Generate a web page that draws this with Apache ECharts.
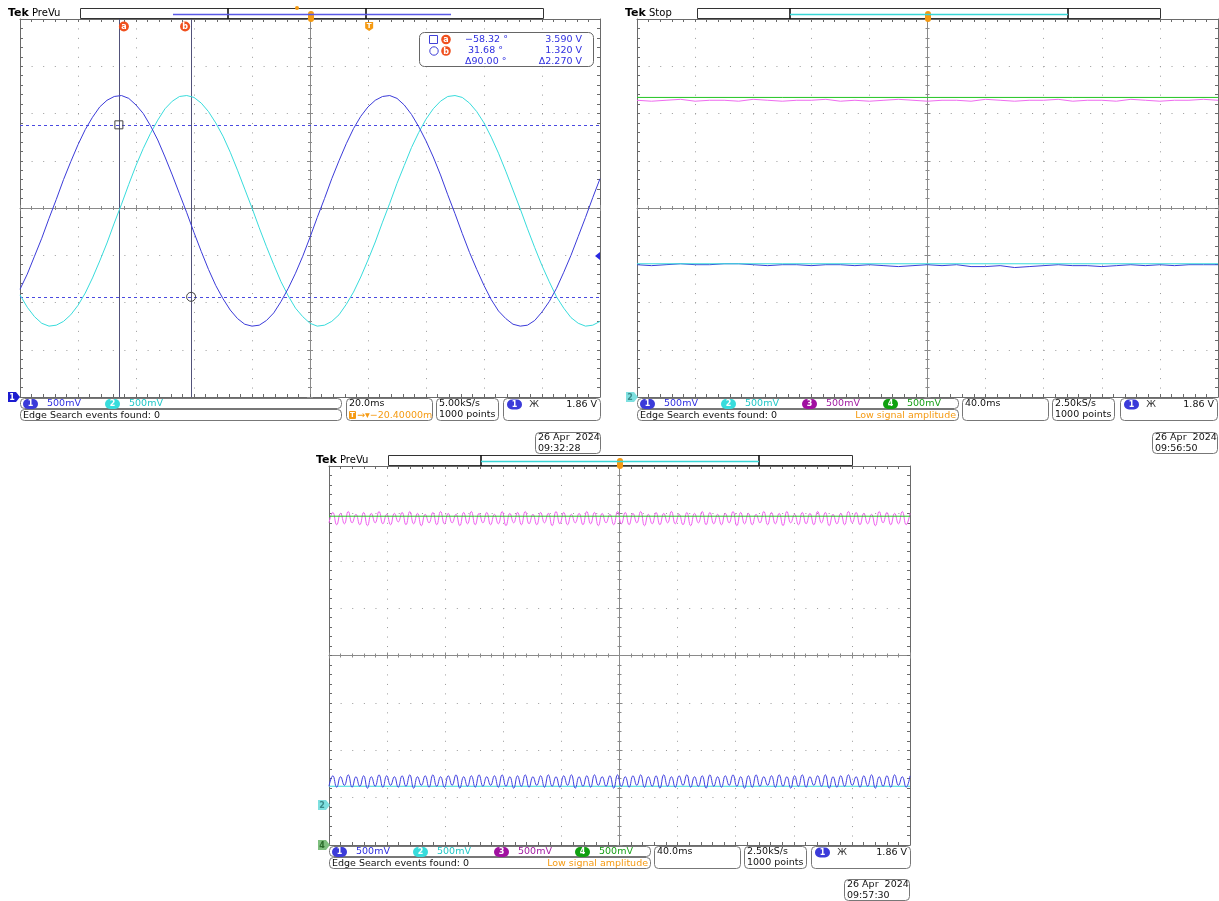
<!DOCTYPE html>
<html><head><meta charset="utf-8">
<script src="https://cdn.jsdelivr.net/npm/echarts@6/dist/echarts.min.js"></script>
<style>html,body{margin:0;padding:0;background:#fff}#c{width:1219px;height:901px}</style>
</head><body><div id="c"></div><script>
// ---------------- DATA ----------------
// Panel 1: 20 ms/div, 500 mV/div, samples every 2.5 ms from -100 to 100 ms (volts relative to screen centre)
const p1Window = [-100, 100];
const p1Ch1 = [-0.86,-0.70,-0.51,-0.32,-0.11,0.09,0.30,0.49,0.67,0.83,0.96,1.07,1.14,1.18,1.19,1.16,1.09,1.00,0.87,0.72,
0.54,0.35,0.15,-0.05,-0.26,-0.46,-0.65,-0.82,-0.96,-1.08,-1.17,-1.23,-1.25,-1.24,-1.19,-1.11,-0.99,-0.85,-0.69,-0.51,
-0.31,-0.10,0.10,0.31,0.50,0.68,0.84,0.97,1.07,1.14,1.18,1.19,1.16,1.09,0.99,0.86,0.71,0.54,0.35,0.14,
-0.06,-0.27,-0.47,-0.65,-0.82,-0.97,-1.09,-1.17,-1.23,-1.25,-1.24,-1.19,-1.10,-0.99,-0.85,-0.68,-0.50,-0.30,-0.10,0.11,0.31];
const p1Ch2 = [-0.92,-1.05,-1.15,-1.22,-1.25,-1.24,-1.20,-1.13,-1.03,-0.90,-0.74,-0.56,-0.37,-0.16,0.04,0.25,0.45,0.63,0.79,0.93,
1.05,1.13,1.18,1.19,1.17,1.11,1.02,0.90,0.76,0.59,0.40,0.20,0.00,-0.21,-0.41,-0.60,-0.78,-0.93,-1.06,-1.15,
-1.22,-1.25,-1.24,-1.20,-1.13,-1.02,-0.89,-0.73,-0.55,-0.36,-0.15,0.05,0.26,0.45,0.64,0.80,0.94,1.05,1.13,1.18,
1.19,1.17,1.11,1.02,0.90,0.75,0.58,0.39,0.19,-0.01,-0.22,-0.42,-0.61,-0.78,-0.94,-1.06,-1.16,-1.22,-1.25,-1.24,-1.20];
const p1CursorTimes = [-65.9, -41.0];
const p1CursorVolts = [0.88, -0.94];
const p1TriggerTime = [20.4];
// Panel 2: 40 ms/div
const p23Window = [-200, 200];
const p2Ch1 = [-0.60,-0.61,-0.60,-0.59,-0.60,-0.60,-0.59,-0.59,-0.60,-0.61,-0.60,-0.60,-0.61,-0.60,-0.60,-0.61,-0.60,-0.61,-0.62,-0.61,-0.60,-0.61,-0.60,-0.62,-0.62,-0.61,-0.63,-0.62,-0.61,-0.60,-0.61,-0.61,-0.62,-0.61,-0.60,-0.61,-0.60,-0.61,-0.60,-0.60,-0.60];
const p2Ch2 = [-0.59,-0.59,-0.59,-0.59,-0.59];
const p2Ch3 = [1.14,1.13,1.14,1.15,1.13,1.14,1.14,1.13,1.15,1.14,1.13,1.14,1.14,1.15,1.13,1.14,1.13,1.14,1.15,1.14,1.13,1.14,1.14,1.13,1.15,1.14,1.13,1.14,1.14,1.15,1.13,1.14,1.14,1.13,1.15,1.14,1.13,1.14,1.14,1.15,1.14];
const p2Ch4 = [1.17,1.17,1.17,1.17,1.17];
// Panel 3: 40 ms/div
const p3Ch1 = [
-1.38,-1.27,-1.39,-1.28,-1.37,-1.26,-1.39,-1.28,-1.38,-1.27,-1.40,-1.28,-1.38,-1.26,-1.39,-1.27,-1.37,-1.28,-1.39,-1.27,
-1.38,-1.26,-1.40,-1.28,-1.37,-1.27,-1.39,-1.26,-1.38,-1.28,-1.39,-1.27,-1.37,-1.26,-1.40,-1.28,-1.38,-1.27,-1.39,-1.26,
-1.38,-1.28,-1.37,-1.27,-1.39,-1.26,-1.38,-1.28,-1.40,-1.27,-1.38,-1.26,-1.39,-1.28,-1.37,-1.27,-1.39,-1.26,-1.38,-1.28,
-1.39,-1.27,-1.37,-1.26,-1.40,-1.28,-1.38,-1.27,-1.39,-1.26,-1.37,-1.28,-1.38,-1.27,-1.40,-1.26,-1.38,-1.28,-1.39,-1.27,
-1.37,-1.26,-1.39,-1.28,-1.38,-1.27,-1.40,-1.26,-1.38,-1.28,-1.39,-1.27,-1.37,-1.26,-1.39,-1.28,-1.38,-1.27,-1.40,-1.26,
-1.38,-1.28,-1.39,-1.27,-1.37,-1.26,-1.38,-1.28,-1.40,-1.27,-1.39,-1.26,-1.38,-1.28,-1.37,-1.27,-1.39,-1.26,-1.38,-1.28,
-1.40,-1.27,-1.38,-1.26,-1.39,-1.28,-1.37,-1.27,-1.38,-1.26,-1.40,-1.28,-1.39,-1.27,-1.38,-1.26,-1.37,-1.28,-1.39,-1.27,
-1.38,-1.26,-1.40,-1.28,-1.38,-1.27,-1.39,-1.26,-1.37,-1.28,-1.39,-1.27];
const p3Ch2 = [-1.38,-1.38,-1.38,-1.38,-1.38];
const p3Ch3 = [
1.40,1.51,1.38,1.50,1.39,1.52,1.40,1.49,1.38,1.51,1.37,1.50,1.40,1.52,1.39,1.49,1.38,1.50,1.41,1.51,
1.38,1.52,1.39,1.50,1.37,1.49,1.40,1.51,1.38,1.52,1.39,1.50,1.40,1.49,1.37,1.51,1.39,1.52,1.38,1.50,
1.40,1.51,1.38,1.49,1.39,1.52,1.37,1.50,1.40,1.51,1.38,1.52,1.39,1.49,1.38,1.51,1.40,1.50,1.37,1.52,
1.39,1.51,1.38,1.49,1.40,1.50,1.38,1.52,1.39,1.51,1.37,1.50,1.40,1.49,1.38,1.52,1.39,1.51,1.38,1.50,
1.40,1.52,1.37,1.49,1.39,1.51,1.38,1.50,1.40,1.52,1.39,1.49,1.38,1.51,1.37,1.50,1.40,1.52,1.38,1.51,
1.39,1.49,1.38,1.50,1.40,1.52,1.37,1.51,1.39,1.50,1.38,1.49,1.40,1.52,1.38,1.51,1.39,1.50,1.37,1.52,
1.40,1.49,1.38,1.51,1.39,1.50,1.38,1.52,1.40,1.51,1.37,1.49,1.39,1.50,1.38,1.52,1.40,1.51,1.38,1.50,
1.39,1.49,1.37,1.52,1.40,1.51,1.38,1.50,1.39,1.52,1.38,1.50];
const p3Ch4 = [1.47,1.47,1.47,1.47,1.47];
// ---------------- STYLE ----------------
const COL = {ch1:'#3b3bd9', ch2:'#38dcdc', ch3:'#e040e0', ch4:'#22c422', border:'#6a6a6a', center:'#8a8a8a', dot:'#9a9a9a',
  t1:'#2f2fe0', t2:'#21c7c7', t3:'#a21ca2', t4:'#18a018', orange:'#f59a12', cur:'#f0501e'};
const FONT = '"DejaVu Sans", "Liberation Sans", sans-serif';
const grids = [
  {left:20, top:19, width:580, height:378},
  {left:637, top:19, width:581, height:378},
  {left:329, top:466, width:581, height:379}
];
function spread(vals, win){ const n = vals.length; return vals.map((v,i)=>[win[0]+(win[1]-win[0])*i/(n-1), v]); }

const xAxes=[], yAxes=[];
function addAxes(g, xr, xi){
  const gr = grids[g];
  const b = xAxes.length;
  const common = {type:'value', gridIndex:g, axisLabel:{show:false}, splitLine:{show:false}, axisPointer:{show:false}, silent:true};
  const vMinor = gr.height/40, hMinor = gr.width/50;
  const tick = (inside,len,col)=>({show:true, inside:inside, length:len, lineStyle:{color:col,width:1}});
  xAxes.push(Object.assign({}, common, {min:xr[0], max:xr[1], interval:xi, position:'bottom',
    axisLine:{show:true,onZero:true,onZeroAxisIndex:b,lineStyle:{color:COL.center,width:1}},
    axisTick:tick(true,3,COL.center), minorTick:{show:true,splitNumber:5,length:2,lineStyle:{color:COL.center}},
    splitLine:{show:true,lineStyle:{color:COL.dot,width:1,type:[1, vMinor-1]}}}));
  xAxes.push(Object.assign({}, common, {min:xr[0], max:xr[1], interval:xi, position:'bottom',
    axisLine:{show:false,onZero:true,onZeroAxisIndex:b+1},
    axisTick:tick(false,3,COL.center), minorTick:{show:true,splitNumber:5,length:2,lineStyle:{color:COL.center}}}));
  xAxes.push(Object.assign({}, common, {min:xr[0], max:xr[1], interval:xi, position:'top',
    axisLine:{show:true,onZero:false,lineStyle:{color:COL.border,width:1}},
    axisTick:tick(true,3,COL.border), minorTick:{show:true,splitNumber:5,length:3,lineStyle:{color:COL.border}}}));
  xAxes.push(Object.assign({}, common, {min:xr[0], max:xr[1], interval:xi, position:'bottom',
    axisLine:{show:true,onZero:false,lineStyle:{color:COL.border,width:1}},
    axisTick:tick(true,3,COL.border), minorTick:{show:true,splitNumber:5,length:3,lineStyle:{color:COL.border}}}));
  yAxes.push(Object.assign({}, common, {min:-2, max:2, interval:0.5, position:'left',
    axisLine:{show:true,onZero:true,onZeroAxisIndex:b,lineStyle:{color:COL.center,width:1}},
    axisTick:tick(true,3,COL.center), minorTick:{show:true,splitNumber:5,length:2,lineStyle:{color:COL.center}},
    splitLine:{show:true,lineStyle:{color:COL.dot,width:1,type:[1, hMinor-1]}}}));
  yAxes.push(Object.assign({}, common, {min:-2, max:2, interval:0.5, position:'left',
    axisLine:{show:false,onZero:true,onZeroAxisIndex:b+1},
    axisTick:tick(false,3,COL.center), minorTick:{show:true,splitNumber:5,length:2,lineStyle:{color:COL.center}}}));
  yAxes.push(Object.assign({}, common, {min:-2, max:2, interval:0.5, position:'left',
    axisLine:{show:true,onZero:false,lineStyle:{color:COL.border,width:1}},
    axisTick:tick(true,3,COL.border), minorTick:{show:true,splitNumber:5,length:3,lineStyle:{color:COL.border}}}));
  yAxes.push(Object.assign({}, common, {min:-2, max:2, interval:0.5, position:'right',
    axisLine:{show:true,onZero:false,lineStyle:{color:COL.border,width:1}},
    axisTick:tick(true,3,COL.border), minorTick:{show:true,splitNumber:5,length:3,lineStyle:{color:COL.border}}}));
  return b;
}
const a0 = addAxes(0, p1Window, 20);
const a1 = addAxes(1, p23Window, 40);
const a2 = addAxes(2, p23Window, 40);

function trace(ai, vals, win, color, extra){
  return Object.assign({type:'line', xAxisIndex:ai, yAxisIndex:ai, data:spread(vals,win), showSymbol:false, symbol:'none',
    lineStyle:{color:color,width:1}, itemStyle:{color:color}, animation:false, silent:true, z:5}, extra||{});
}
const series = [
  trace(a0, p1Ch2, p1Window, COL.ch2),
  trace(a0, p1Ch1, p1Window, COL.ch1, {
    markLine:{silent:true, symbol:'none', animation:false, label:{show:false},
      data:[
        {xAxis:p1CursorTimes[0], lineStyle:{color:'#52527a',type:'solid',width:1}},
        {xAxis:p1CursorTimes[1], lineStyle:{color:'#52527a',type:'solid',width:1}},
        {yAxis:p1CursorVolts[0], lineStyle:{color:'#4a4ae0',type:[3,3],width:1}},
        {yAxis:p1CursorVolts[1], lineStyle:{color:'#4a4ae0',type:[3,3],width:1}}
      ]},
    markPoint:{silent:true, animation:false, data:[
      {coord:[p1CursorTimes[0],1.92], symbol:'circle', symbolSize:10, symbolOffset:[5,0], itemStyle:{color:COL.cur}, label:{show:true,formatter:'a',color:'#fff',fontSize:8,fontWeight:'bold',fontFamily:FONT}},
      {coord:[p1CursorTimes[1],1.92], symbol:'circle', symbolSize:10, symbolOffset:[-6,0], itemStyle:{color:COL.cur}, label:{show:true,formatter:'b',color:'#fff',fontSize:8,fontWeight:'bold',fontFamily:FONT}},
      {coord:[p1TriggerTime[0],1.92], symbol:'path://M0,0 L10,0 L10,7 L5,10 L0,7 Z', symbolSize:[8,9], itemStyle:{color:COL.orange}, label:{show:true,formatter:'T',color:'#fff',fontSize:7,fontWeight:'bold',fontFamily:FONT}},
      {coord:[p1CursorTimes[0],p1CursorVolts[0]], symbol:'rect', symbolSize:8, itemStyle:{color:'rgba(0,0,0,0)',borderColor:'#444',borderWidth:1}, label:{show:false}},
      {coord:[p1CursorTimes[1],p1CursorVolts[1]], symbol:'circle', symbolSize:9, itemStyle:{color:'rgba(0,0,0,0)',borderColor:'#444',borderWidth:1}, label:{show:false}}
    ]}
  }),
  trace(a1, p2Ch3, p23Window, '#ef6cef'),
  trace(a1, p2Ch4, p23Window, COL.ch4),
  trace(a1, p2Ch1, p23Window, COL.ch1),
  trace(a1, p2Ch2, p23Window, COL.ch2),
  trace(a2, p3Ch3, p23Window, '#f060f0', {smooth:0.5}),
  trace(a2, p3Ch4, p23Window, COL.ch4),
  trace(a2, p3Ch2, p23Window, COL.ch2),
  trace(a2, p3Ch1, p23Window, '#3d3de0', {smooth:0.5})
];

// ---------------- GRAPHICS (screen furniture) ----------------
const G = [];
function txt(x,y,s,color,size,opt){ opt=opt||{}; G.push({type:'text', z:100, x:x, y:y, silent:true,
  style:{text:s, fill:color||'#000', font:(opt.bold?'bold ':'')+(size||10)+'px '+FONT, textAlign:opt.align||'left', textVerticalAlign:'middle', align:opt.align||'left', verticalAlign:'middle'}}); }
function rrect(x,y,w,h,r,stroke,fill,lw){ G.push({type:'rect', z:90, silent:true, shape:{x:x,y:y,width:w,height:h,r:r}, style:{stroke:stroke||'none', fill:fill||'none', lineWidth:lw||1}}); }
function seg(x1,y1,x2,y2,color,lw){ G.push({type:'line', z:95, silent:true, shape:{x1:x1,y1:y1,x2:x2,y2:y2}, style:{stroke:color, lineWidth:lw||1}}); }
function poly(pts,fill){ G.push({type:'polygon', z:96, silent:true, shape:{points:pts}, style:{fill:fill}}); }
function pill(x,y,col,num){ rrect(x,y,15,10,5,null,col); txt(x+7.5,y+5.3,num,'#fff',8,{bold:true,align:'center'}); }
function header(x,label,boxL,boxR,d1,d2,lineL,lineR,lineCol,trig,y0){
  txt(x,y0+5,'Tek','#000',11,{bold:true}); txt(x+24,y0+5,label,'#000',10);
  rrect(boxL+0.5,y0+0.5,boxR-boxL,10,0,'#333','#fff',1);
  seg(d1,y0,d1,y0+11,'#111',1.6); seg(d2,y0,d2,y0+11,'#111',1.6);
  seg(lineL,y0+6.5,lineR,y0+6.5,lineCol,1.5);
  rrect(trig-3,y0+3,6,11,3,null,COL.orange);
}
function statusBar(x,y,w,chans,lowSig){
  rrect(x+0.5,y+0.5,w,10,4,'#777','#fff',1);
  rrect(x+0.5,y+11.5,w,11,4,'#777','#fff',1);
  const cols=[COL.ch1,COL.ch2,'#a010a0','#10a010'], tcols=[COL.t1,COL.t2,COL.t3,COL.t4];
  chans.forEach((c,i)=>{ pill(x+3+c[1],y+1,cols[c[0]],String(c[0]+1)); txt(x+27+c[1],y+6,'500mV',tcols[c[0]],9.5); });
  txt(x+3,y+17.5,'Edge Search events found: 0','#111',9.5);
  if(lowSig) txt(x+w-2,y+17.5,'Low signal amplitude',COL.orange,9.5,{align:'right'});
}
function boxes(x,y,tb,rate,rateL2,trigX,trigW){
  rrect(x+0.5,y+0.5,86,22,4,'#777','#fff',1);
  txt(x+3,y+6,tb,'#111',9.5);
  rrect(x+90.5,y+0.5,62,22,4,'#777','#fff',1);
  txt(x+93,y+6,rate,'#111',9.5); txt(x+93,y+17,rateL2,'#111',9.5);
  rrect(trigX+0.5,y+0.5,trigW,22,4,'#777','#fff',1);
  pill(trigX+4,y+1.5,COL.ch1,'1');
  txt(trigX+31,y+6.5,'\u0416','#333',9,{align:'center'});
  txt(trigX+trigW-3,y+6.5,'1.86 V','#111',9.5,{align:'right'});
}
function dateBox(x,y,t){ rrect(x+0.5,y+0.5,65,21,4,'#777','#fff',1); txt(x+3,y+6,'26 Apr  2024','#111',9.5); txt(x+3,y+16.5,t,'#111',9.5); }

// Panel 1
header(8,'PreVu',80,543,228,366,173,451,'#5a5ae6',311,8);
G.push({type:'circle',z:96,silent:true,shape:{cx:297,cy:8,r:2},style:{fill:COL.orange}});
statusBar(20,398,321,[[0,0],[1,82]],false);
boxes(346,398,'20.0ms','5.00kS/s','1000 points',503,97);
rrect(349,411,7,8,1,null,COL.orange); txt(352.5,415.5,'T','#fff',7,{bold:true,align:'center'});
txt(357,415.5,'\u2192\u25BE\u221220.40000m',COL.orange,9.5);
dateBox(535,432,'09:32:28');
poly([[8,392],[16,392],[20,397],[16,402],[8,402]],'#1c1cd0'); txt(12,397.5,'1','#fff',8,{bold:true,align:'center'});
poly([[600,252],[600,260],[595,256]],'#2a2ae0');
rrect(419.5,32.5,174,34,5,'#666','#fff',1);
rrect(429.5,35.5,8,8,0,'#4040d8',null,1);
G.push({type:'circle',z:96,silent:true,shape:{cx:434,cy:51,r:4.2},style:{stroke:'#4040d8',fill:'none',lineWidth:1}});
G.push({type:'circle',z:96,silent:true,shape:{cx:446,cy:39.5,r:4.8},style:{fill:COL.cur}}); txt(446,40,'a','#fff',8,{bold:true,align:'center'});
G.push({type:'circle',z:96,silent:true,shape:{cx:446,cy:51,r:4.8},style:{fill:COL.cur}}); txt(446,51.5,'b','#fff',8,{bold:true,align:'center'});
txt(465,39.5,'\u221258.32 \u00B0','#2f2fe0',9.5); txt(582,39.5,'3.590 V','#2f2fe0',9.5,{align:'right'});
txt(468,51,'31.68 \u00B0','#2f2fe0',9.5); txt(582,51,'1.320 V','#2f2fe0',9.5,{align:'right'});
txt(465,61.5,'\u039490.00 \u00B0','#2f2fe0',9.5); txt(582,61.5,'\u03942.270 V','#2f2fe0',9.5,{align:'right'});

// Panel 2
header(625,'Stop',697,1160,790,1068,790,1068,'#3ad6d6',928,8);
statusBar(637,398,321,[[0,0],[1,81],[2,162],[3,243]],true);
boxes(962,398,'40.0ms','2.50kS/s','1000 points',1120,97);
dateBox(1152,432,'09:56:50');
poly([[626,392],[634,392],[638,397],[634,402],[626,402]],'#7fe0e0'); txt(630,397.5,'2','#3a8a8a',8,{bold:true,align:'center'});

// Panel 3
header(316,'PreVu',388,852,481,759,481,759,'#3ad6d6',620,455);
statusBar(329,846,321,[[0,0],[1,81],[2,162],[3,243]],true);
boxes(654,846,'40.0ms','2.50kS/s','1000 points',811,99);
dateBox(844,879,'09:57:30');
poly([[318,800],[326,800],[330,805],[326,810],[318,810]],'#7fe0e0'); txt(322,805.5,'2','#3a8a8a',8,{bold:true,align:'center'});
poly([[318,840],[326,840],[330,845],[326,850],[318,850]],'#7fbf7f'); txt(322,845.5,'4','#2a6a2a',8,{bold:true,align:'center'});

const chart = echarts.init(document.getElementById('c'), null, {renderer:'canvas', width:1219, height:901});
chart.setOption({
  animation:false, backgroundColor:'#ffffff',
  grid: grids.map(g=>Object.assign({containLabel:false, show:false}, g)),
  xAxis: xAxes, yAxis: yAxes, series: series, graphic:{elements:G}
});
</script></body></html>
